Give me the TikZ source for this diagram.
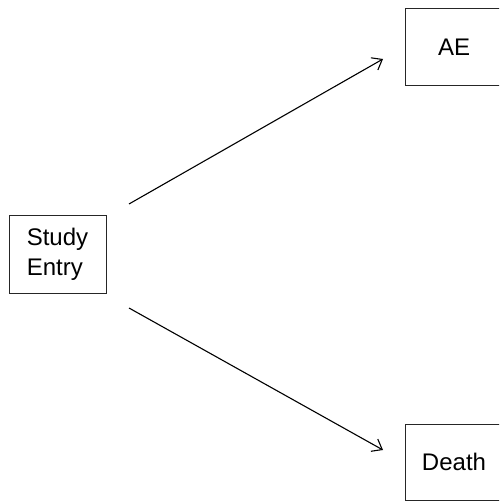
\documentclass[tikz,border=0pt]{standalone}
\usepackage{fontspec}
\setmainfont{Liberation Sans}
\usetikzlibrary{arrows.meta}
\begin{document}
\begin{tikzpicture}[x=1pt,y=-1pt,
  boxnode/.style={draw=black!85,line width=1pt,minimum width=97pt,minimum height=77pt,inner sep=0pt,align=left,font=\fontsize{24}{30}\selectfont},
  arr/.style={line width=1.1pt,-{Straight Barb[length=9pt,width=14pt,line width=1.1pt]}}]
\useasboundingbox (0,0) rectangle (499,502);
\clip (0,0) rectangle (499,502);
\node[boxnode] (se) at (57.5,254.5) {Study\\Entry};
\node[boxnode] (ae) at (454,47.5) {AE};
\node[boxnode,minimum height=76pt] (de) at (454,462) {Death};
\coordinate (a1) at (129,204);
\coordinate (a2) at (383,59);
\coordinate (b1) at (129,308);
\coordinate (b2) at (383,450);
\draw[arr] (a1) -- (a2);
\draw[arr] (b1) -- (b2);
\end{tikzpicture}
\end{document}
